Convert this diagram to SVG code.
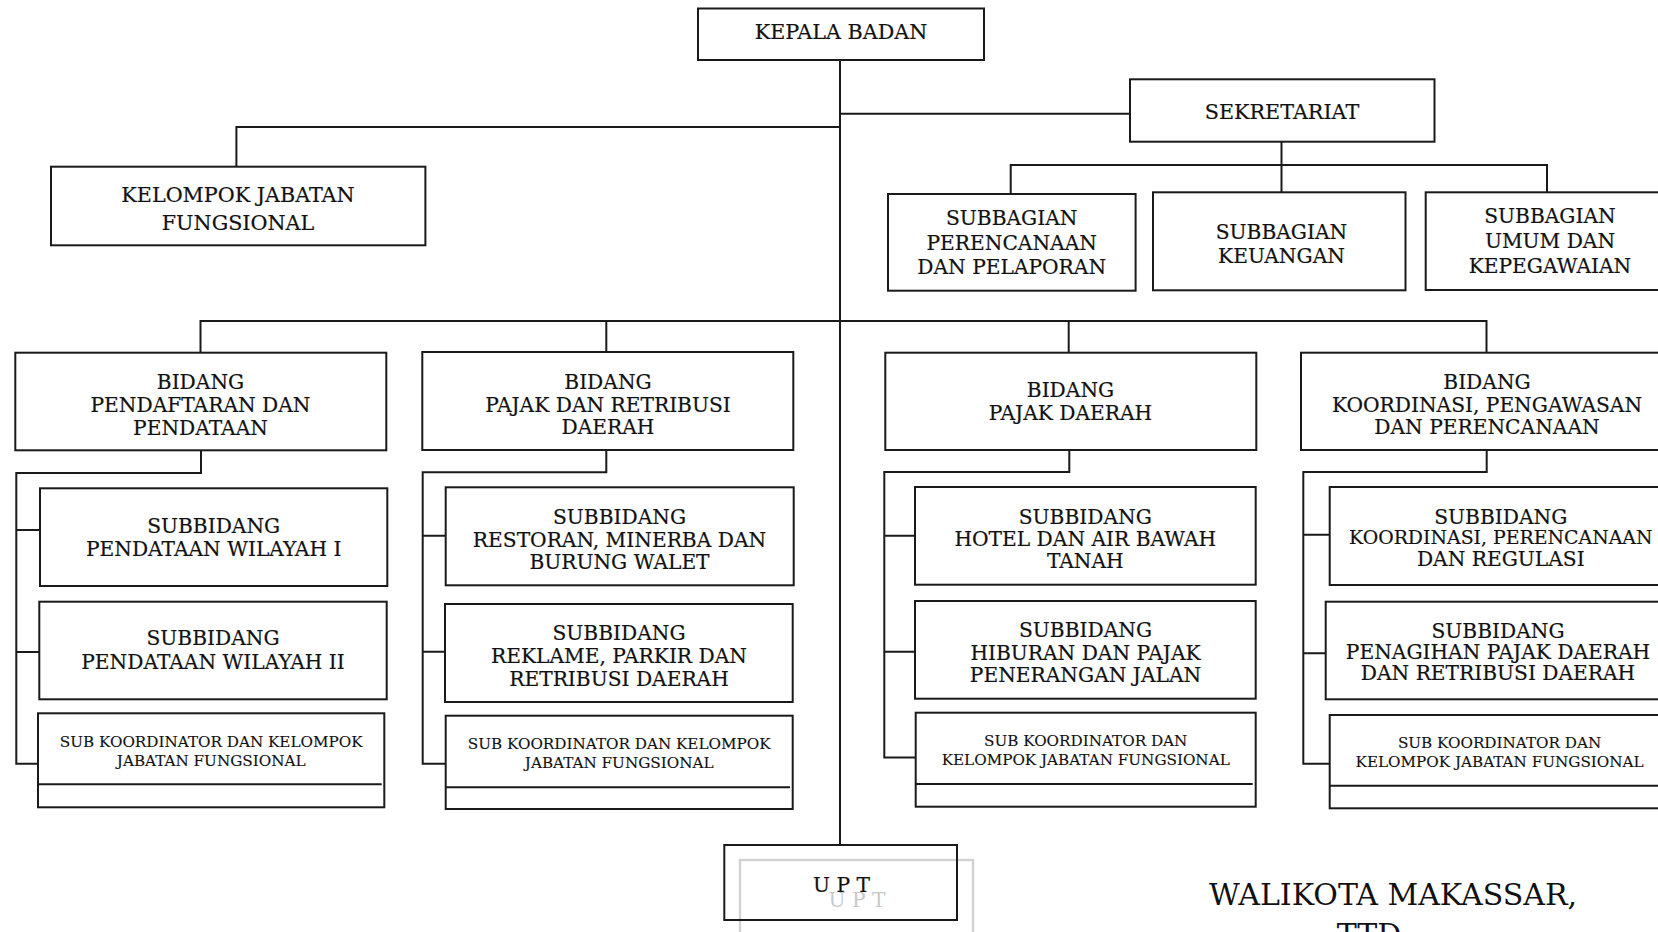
<svg xmlns="http://www.w3.org/2000/svg" width="1658" height="932" viewBox="0 0 1658 932">
<style>
  .box{fill:#fff;stroke:#1a1a1a;stroke-width:2}
  .ln{fill:none;stroke:#1a1a1a;stroke-width:2}
  .t{font-family:"DejaVu Serif","Liberation Serif",serif;font-size:20.2px;fill:#111;text-anchor:middle;stroke:#111;stroke-width:0.2}
  .tl{font-size:20.7px}
  .tn{font-size:18.9px}
  .s{font-family:"DejaVu Serif","Liberation Serif",serif;font-size:15.2px;fill:#111;text-anchor:middle;stroke:#111;stroke-width:0.15}
  .ghost{fill:none;stroke:#d2d2d2;stroke-width:2.5}
  .gt{font-family:"DejaVu Serif","Liberation Serif",serif;font-size:20.2px;fill:#c9c9c9;text-anchor:middle}
  .big{font-family:"DejaVu Serif","Liberation Serif",serif;font-size:30px;fill:#111;text-anchor:middle}
</style>
<rect width="1658" height="932" fill="#fff"/>

<g id="connectors">
  <path class="ln" d="M840 60 V845"/>
  <path class="ln" d="M840 113.7 H1130"/>
  <path class="ln" d="M840 127 H236.4 V166.7"/>
  <path class="ln" d="M1281.5 141.7 V192.3"/>
  <path class="ln" d="M1010.7 194 V165 H1547 V192.3"/>
  <path class="ln" d="M200.5 352.7 V321 H1486.5 V352.7"/>
  <path class="ln" d="M606.3 321 V352"/>
  <path class="ln" d="M1068.7 321 V352.7"/>
  <path class="ln" d="M201 450.3 V473 H16.3 V763.7 H38"/>
  <path class="ln" d="M16.3 530 H40 M16.3 652 H39.3"/>
  <path class="ln" d="M606.3 450 V472.3 H422.7 V763.7 H445.7"/>
  <path class="ln" d="M422.7 535.7 H445.7 M422.7 651.7 H445"/>
  <path class="ln" d="M1069.3 450 V472 H884.3 V757.5 H915.7"/>
  <path class="ln" d="M884.3 535.7 H915 M884.3 651.7 H915"/>
  <path class="ln" d="M1486.7 450 V472 H1303.3 V763.7 H1329.7"/>
  <path class="ln" d="M1303.3 534.7 H1329.7 M1303.3 653.3 H1325.7"/>
</g>

<g id="kepala-badan">
  <rect class="box" x="698" y="8.5" width="286" height="51.5"/>
  <text class="t tl" x="841" y="39.3">KEPALA BADAN</text>
</g>

<g id="sekretariat">
  <rect class="box" x="1130" y="79.3" width="304.5" height="62.4"/>
  <text class="t tl" x="1282" y="119">SEKRETARIAT</text>
</g>

<g id="kelompok-jabatan-fungsional">
  <rect class="box" x="51" y="166.7" width="374.4" height="78.6"/>
  <text class="t tl" x="238" y="202">KELOMPOK JABATAN</text>
  <text class="t tl" x="238" y="230">FUNGSIONAL</text>
</g>

<g id="subbagian-perencanaan">
  <rect class="box" x="888" y="194" width="247.6" height="96.7"/>
  <text class="t" x="1011.7" y="225">SUBBAGIAN</text>
  <text class="t" x="1011.7" y="249.7">PERENCANAAN</text>
  <text class="t" x="1011.7" y="274.4">DAN PELAPORAN</text>
</g>

<g id="subbagian-keuangan">
  <rect class="box" x="1153" y="192.3" width="252.5" height="98"/>
  <text class="t" x="1281.5" y="238.7">SUBBAGIAN</text>
  <text class="t" x="1281.5" y="263.3">KEUANGAN</text>
</g>

<g id="subbagian-umum">
  <rect class="box" x="1425.7" y="192.3" width="244" height="97.7"/>
  <text class="t" x="1550" y="222.7">SUBBAGIAN</text>
  <text class="t" x="1550" y="247.7">UMUM DAN</text>
  <text class="t" x="1550" y="272.7">KEPEGAWAIAN</text>
</g>

<g id="bidang-pendaftaran">
  <rect class="box" x="15.3" y="352.7" width="371" height="97.6"/>
  <text class="t" x="200.5" y="389.3">BIDANG</text>
  <text class="t" x="200.5" y="412.3">PENDAFTARAN DAN</text>
  <text class="t" x="200.5" y="435.3">PENDATAAN</text>
</g>

<g id="subbidang-wilayah-1">
  <rect class="box" x="40" y="488.3" width="347.3" height="97.7"/>
  <text class="t" x="213.7" y="532.7">SUBBIDANG</text>
  <text class="t" x="213.7" y="556">PENDATAAN WILAYAH I</text>
</g>

<g id="subbidang-wilayah-2">
  <rect class="box" x="39.3" y="601.7" width="347.4" height="97.6"/>
  <text class="t" x="213" y="645.3">SUBBIDANG</text>
  <text class="t" x="213" y="668.7">PENDATAAN WILAYAH II</text>
</g>

<g id="koordinator-1">
  <rect class="box" x="38" y="713.3" width="346.3" height="94"/>
  <path class="ln" d="M38 784.3 H381.7"/>
  <text class="s" x="211.2" y="747.3">SUB KOORDINATOR DAN KELOMPOK</text>
  <text class="s" x="211.2" y="766">JABATAN FUNGSIONAL</text>
</g>

<g id="bidang-pajak-retribusi">
  <rect class="box" x="422.3" y="352" width="371" height="98"/>
  <text class="t" x="608" y="389.3">BIDANG</text>
  <text class="t" x="608" y="411.7">PAJAK DAN RETRIBUSI</text>
  <text class="t" x="608" y="434.3">DAERAH</text>
</g>

<g id="subbidang-restoran">
  <rect class="box" x="445.7" y="487.3" width="348" height="98"/>
  <text class="t" x="619.5" y="523.7">SUBBIDANG</text>
  <text class="t" x="619.5" y="546.7">RESTORAN, MINERBA DAN</text>
  <text class="t" x="619.5" y="569.3">BURUNG WALET</text>
</g>

<g id="subbidang-reklame">
  <rect class="box" x="445" y="604" width="347.7" height="98"/>
  <text class="t" x="619" y="640.3">SUBBIDANG</text>
  <text class="t" x="619" y="663.3">REKLAME, PARKIR DAN</text>
  <text class="t" x="619" y="686">RETRIBUSI DAERAH</text>
</g>

<g id="koordinator-2">
  <rect class="box" x="445.7" y="715.7" width="347" height="93.3"/>
  <path class="ln" d="M445.7 787.3 H790"/>
  <text class="s" x="619.2" y="749.3">SUB KOORDINATOR DAN KELOMPOK</text>
  <text class="s" x="619.2" y="767.7">JABATAN FUNGSIONAL</text>
</g>

<g id="bidang-pajak-daerah">
  <rect class="box" x="885.3" y="352.7" width="371" height="97.3"/>
  <text class="t" x="1070.5" y="397.3">BIDANG</text>
  <text class="t" x="1070.5" y="419.7">PAJAK DAERAH</text>
</g>

<g id="subbidang-hotel">
  <rect class="box" x="915" y="487" width="340.7" height="97.7"/>
  <text class="t" x="1085.3" y="523.7">SUBBIDANG</text>
  <text class="t" x="1085.3" y="545.7">HOTEL DAN AIR BAWAH</text>
  <text class="t" x="1085.3" y="568.3">TANAH</text>
</g>

<g id="subbidang-hiburan">
  <rect class="box" x="915" y="601" width="340.7" height="97.7"/>
  <text class="t" x="1085.5" y="637.3">SUBBIDANG</text>
  <text class="t" x="1085.5" y="660">HIBURAN DAN PAJAK</text>
  <text class="t" x="1085.5" y="682.3">PENERANGAN JALAN</text>
</g>

<g id="koordinator-3">
  <rect class="box" x="915.7" y="712.7" width="340" height="94"/>
  <path class="ln" d="M915.7 784 H1252.7"/>
  <text class="s" x="1085.7" y="746">SUB KOORDINATOR DAN</text>
  <text class="s" x="1085.7" y="765">KELOMPOK JABATAN FUNGSIONAL</text>
</g>

<g id="bidang-koordinasi">
  <rect class="box" x="1301" y="352.7" width="372" height="97.3"/>
  <text class="t" x="1487" y="389.3">BIDANG</text>
  <text class="t" x="1487" y="411.7">KOORDINASI, PENGAWASAN</text>
  <text class="t" x="1487" y="434.3">DAN PERENCANAAN</text>
</g>

<g id="subbidang-regulasi">
  <rect class="box" x="1329.7" y="487" width="342" height="98"/>
  <text class="t" x="1500.8" y="523.7">SUBBIDANG</text>
  <text class="t tn" x="1500.8" y="544.3">KOORDINASI, PERENCANAAN</text>
  <text class="t" x="1500.8" y="566">DAN REGULASI</text>
</g>

<g id="subbidang-penagihan">
  <rect class="box" x="1325.7" y="601.7" width="346" height="97.6"/>
  <text class="t" x="1498" y="637.7">SUBBIDANG</text>
  <text class="t" x="1498" y="659.3">PENAGIHAN PAJAK DAERAH</text>
  <text class="t" x="1498" y="680">DAN RETRIBUSI DAERAH</text>
</g>

<g id="koordinator-4">
  <rect class="box" x="1329.7" y="715" width="342" height="93.3"/>
  <path class="ln" d="M1329.7 785.7 H1672"/>
  <text class="s" x="1499.6" y="748">SUB KOORDINATOR DAN</text>
  <text class="s" x="1499.6" y="766.7">KELOMPOK JABATAN FUNGSIONAL</text>
</g>

<g id="upt">
  <rect class="ghost" x="740" y="860" width="233" height="80"/>
  <text class="gt" x="857" y="907">U P T</text>
  <rect fill="none" stroke="#1a1a1a" stroke-width="2" x="724.3" y="845" width="232.7" height="75"/>
  <text class="t" x="841.5" y="891.7">U P T</text>
</g>

<g id="signature">
  <text class="big" x="1393" y="905">WALIKOTA MAKASSAR,</text>
  <text class="big" x="1369" y="945">TTD</text>
</g>
</svg>
